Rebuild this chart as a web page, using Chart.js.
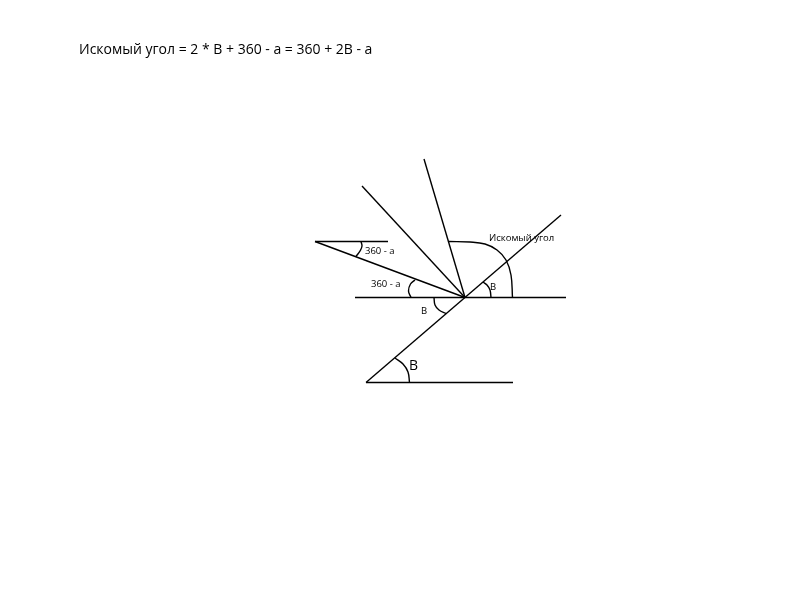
<!DOCTYPE html>
<html>
<head>
<meta charset="utf-8">
<script src="https://cdn.jsdelivr.net/npm/chart.js@4"></script>
<style>
  html, body { margin: 0; padding: 0; background: #fff; }
  #wrap { width: 800px; height: 600px; position: relative; }
</style>
</head>
<body>
<div id="wrap"><canvas id="diagram"></canvas></div>
<script>
// ===== diagram data (page coordinates, y grows downward) =====
const diagonal   = [[366, 382.5], [561, 215]];
const bottomLine = [[366, 382.5], [513, 382.5]];
const middleLine = [[355, 297.5], [566, 297.5]];
const rayLeft    = [[315, 241.5], [465, 297.5]];
const topShort   = [[315, 241.5], [388, 241.5]];
const rayUpLeft  = [[362, 186], [465, 297.5]];
const rayUp      = [[424, 159], [465, 297.5]];

// arcs
const arcWanted   = [[449, 241.5], [470, 242], [485, 244], [497, 250], [506, 260], [511, 275], [512.5, 297.5]];
const arcTopA     = [[361, 241.5], [362, 246], [360, 251], [356, 256.5]];
const arcLowA     = [[411, 297.5], [408.5, 291], [410.5, 284], [415, 280]];
const arcLowB     = [[434, 297.5], [435, 305], [439, 310], [446, 313.5]];
const arcRightB   = [[491, 297.5], [490, 290], [487, 285], [483, 282]];
const arcBigB     = [[395, 358], [403, 364], [408, 372], [409.5, 382.5]];

const lines = [diagonal, bottomLine, middleLine, rayLeft, topShort, rayUpLeft, rayUp];
const arcs  = [arcWanted, arcTopA, arcLowA, arcLowB, arcRightB, arcBigB];

// text: [text, x, y, size]
const labels = [
    ['Искомый угол = 2 * B + 360 - a = 360 + 2B - a', 79, 50, 14],
    ['Искомый угол', 489, 238, 9.5],
    ['360 - a', 365, 251, 9.5],
    ['360 - a', 371, 284, 9.5],
    ['B', 421, 311, 9.5],
    ['B', 490, 287, 9.5],
    ['B', 409, 366, 14]
];

const toPts = arr => arr.map(p => ({ x: p[0], y: p[1] }));

const datasets = [];
lines.forEach(l => datasets.push({
    data: toPts(l), showLine: true, borderColor: '#000', borderWidth: 1.4,
    pointRadius: 0, tension: 0
}));
arcs.forEach(a => datasets.push({
    data: toPts(a), showLine: true, borderColor: '#000', borderWidth: 1.4,
    pointRadius: 0, tension: 0.4
}));

const textPlugin = {
    id: 'diagramText',
    afterDraw(chart) {
        const ctx = chart.ctx;
        const xs = chart.scales.x, ys = chart.scales.y;
        ctx.save();
        ctx.fillStyle = '#000';
        ctx.textBaseline = 'middle';
        ctx.textAlign = 'left';
        labels.forEach(t => {
            ctx.font = t[3] + 'px "Open Sans", "Liberation Sans", sans-serif';
            ctx.fillText(t[0], xs.getPixelForValue(t[1]), ys.getPixelForValue(t[2]));
        });
        ctx.restore();
    }
};

new Chart(document.getElementById('diagram'), {
    type: 'scatter',
    data: { datasets: datasets },
    options: {
        responsive: true,
        maintainAspectRatio: false,
        animation: false,
        layout: { padding: 0 },
        scales: {
            x: { type: 'linear', min: 0, max: 800, display: false },
            y: { type: 'linear', min: 0, max: 600, reverse: true, display: false }
        },
        plugins: { legend: { display: false }, tooltip: { enabled: false } }
    },
    plugins: [textPlugin]
});
</script>
</body>
</html>
